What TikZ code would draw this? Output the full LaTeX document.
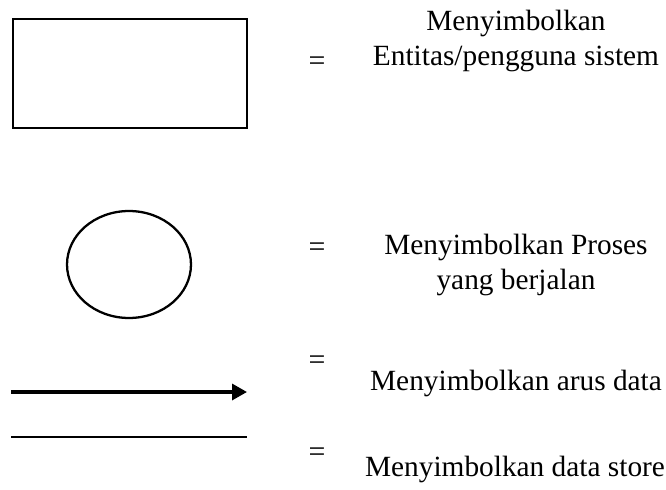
\documentclass[tikz,border=0pt]{standalone}
\usepackage{fontspec}
\setmainfont{Liberation Serif}
\usetikzlibrary{arrows.meta,shapes.geometric}
\begin{document}
\begin{tikzpicture}[x=0.02cm,y=-0.02cm]
				\tikzset{entitas/.style={draw, line width=1.6pt, minimum width=4.68cm, minimum height=2.18cm, inner sep=0pt},
					proses/.style={draw, ellipse, line width=1.3pt, minimum width=2.48cm, minimum height=2.14cm, inner sep=0pt},
					ket/.style={align=center, font=\fontsize{16.7}{19.5}\selectfont},
					sama/.style={font=\fontsize{17}{19.5}\selectfont, inner sep=0pt}}
				\useasboundingbox (0,0) rectangle (666,490);
				\node[entitas] (ent) at (130,73.5) {};
				\node[proses] (pros) at (129,264.5) {};
				\coordinate (arus1) at (11,392);
				\coordinate (arus2) at (247,392);
				\coordinate (store1) at (11,437);
				\coordinate (store2) at (247,437);
				\draw[line width=1.9pt, -{Triangle[length=0.3cm,width=0.32cm]}] (arus1) -- (arus2);
				\draw[line width=0.7pt] (store1) -- (store2);
				\node[sama] (eq1) at (317,64) {=};
				\node[sama] (eq2) at (317,250) {=};
				\node[sama] (eq3) at (317,363) {=};
				\node[sama] (eq4) at (317,455) {=};
				\node[ket] (ket1) at (516,41) {Menyimbolkan\\Entitas/pengguna sistem};
				\node[ket] (ket2) at (516,265) {Menyimbolkan Proses\\yang berjalan};
				\node[ket] (ket3) at (516,383) {Menyimbolkan arus data};
				\node[ket] (ket4) at (515,469) {Menyimbolkan data store};
			\end{tikzpicture}
\end{document}
